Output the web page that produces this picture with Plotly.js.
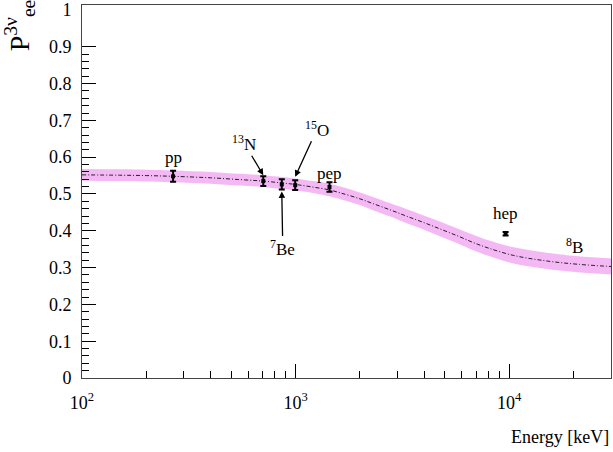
<!DOCTYPE html>
<html>
<head>
<meta charset="utf-8">
<script src="https://cdn.plot.ly/plotly-3.0.1.min.js"></script>
<style>html,body{margin:0;padding:0;background:#fff;}#chart{width:613px;height:452px;}</style>
</head>
<body>
<div id="chart"></div>
<script>
// Survival probability curve
const curveEnergy = [100, 150, 200, 267, 400, 550, 706, 862, 996, 1200, 1442, 1620, 2000, 2300, 2800, 3300, 4000, 4800, 5800, 6800, 8000, 10500, 15000, 21000, 30000];
const curveP      = [0.552, 0.551, 0.550, 0.548, 0.544, 0.539, 0.535, 0.530, 0.526, 0.519, 0.511, 0.503, 0.487, 0.474, 0.456, 0.440, 0.422, 0.404, 0.385, 0.368, 0.353, 0.333, 0.318, 0.309, 0.303];
const bandHalf    = [0.016, 0.016, 0.016, 0.016, 0.016, 0.016, 0.016, 0.016, 0.016, 0.016, 0.017, 0.017, 0.017, 0.018, 0.018, 0.019, 0.019, 0.020, 0.020, 0.021, 0.021, 0.022, 0.022, 0.022, 0.022];

// Neutrino sources
const srcNames  = ['pp', '13N', '7Be', '15O', 'pep', 'hep'];
const srcEnergy = [267, 706, 862, 996, 1442, 9628];
const srcP      = [0.548, 0.535, 0.526, 0.524, 0.519, 0.392];
const srcErr    = [0.015, 0.013, 0.014, 0.013, 0.013, 0.005];

// Axis tick labels
const xTickVals = [100, 1000, 10000];
const xTickText = ['10<sup>2</sup>', '10<sup>3</sup>', '10<sup>4</sup>'];
const xMinorVals = [200,300,400,500,600,700,800,900,2000,3000,4000,5000,6000,7000,8000,9000,20000,30000];
const yTickVals = [0, 0.1, 0.2, 0.3, 0.4, 0.5, 0.6, 0.7, 0.8, 0.9, 1];
const yTickText = ['0', '0.1', '0.2', '0.3', '0.4', '0.5', '0.6', '0.7', '0.8', '0.9', '1'];

const upper = curveP.map((v, i) => v + bandHalf[i]);
const lower = curveP.map((v, i) => v - bandHalf[i]);

const serif = 'Liberation Serif';

const traces = [
  {x: curveEnergy, y: lower, mode: 'lines', line: {width: 0, shape: 'spline'}, hoverinfo: 'skip', showlegend: false},
  {x: curveEnergy, y: upper, mode: 'lines', line: {width: 0, shape: 'spline'}, fill: 'tonexty', fillcolor: 'rgb(244,184,244)', hoverinfo: 'skip', showlegend: false},
  {x: curveEnergy, y: curveP, mode: 'lines', line: {color: '#222', width: 1, dash: '4px,2px,1px,2px', shape: 'spline'}, showlegend: false},
  {x: srcEnergy, y: srcP, mode: 'markers', marker: {symbol: 'square', size: 4, color: '#000'},
   error_y: {type: 'data', array: srcErr, visible: true, color: '#000', thickness: 2, width: 3}, showlegend: false},
  // invisible holder so the title-only axis (y2) gets drawn
  {x: [curveEnergy[0]], y: [0], yaxis: 'y2', mode: 'markers', marker: {opacity: 0}, hoverinfo: 'skip', showlegend: false}
];

function lg(v) { return Math.log10(v); }
const annFont = {family: serif, size: 17, color: '#000'};
const anns = [
  {x: lg(267), y: 0.598, text: 'pp', showarrow: false},
  {x: lg(1442), y: 0.557, text: 'pep', showarrow: false},
  {x: lg(9628), y: 0.446, text: 'hep', showarrow: false},
  {x: lg(20300), y: 0.359, text: '<sup>8</sup>B', showarrow: false},
  {x: lg(706), y: 0.551, text: '<sup>13</sup>N', showarrow: true, ax: -19, ay: -32, arrowhead: 2, arrowsize: 1, arrowwidth: 1.3, arrowcolor: '#000'},
  {x: lg(996), y: 0.547, text: '<sup>15</sup>O', showarrow: true, ax: 22, ay: -48, arrowhead: 2, arrowsize: 1, arrowwidth: 1.3, arrowcolor: '#000'},
  {x: lg(862), y: 0.507, text: '<sup>7</sup>Be', showarrow: true, ax: 1, ay: 57, arrowhead: 2, arrowsize: 1, arrowwidth: 1.3, arrowcolor: '#000'}
].map(a => Object.assign({xref: 'x', yref: 'y', font: annFont}, a));

anns.push({xref: 'paper', yref: 'paper', x: 1, y: -0.158, xanchor: 'right', yanchor: 'middle', text: 'Energy [keV]', showarrow: false, font: {family: serif, size: 18, color: '#000'}});

const layout = {
  width: 613, height: 452,
  margin: {l: 82, r: 2, t: 5, b: 74, autoexpand: false},
  paper_bgcolor: '#fff', plot_bgcolor: '#fff',
  showlegend: false,
  xaxis: {
    type: 'log', range: [2, Math.log10(30000)],
    tickvals: xTickVals, ticktext: xTickText,
    ticks: 'inside', ticklen: 14, tickwidth: 1, tickcolor: '#000',
    minor: {tickvals: xMinorVals, ticks: 'inside', ticklen: 7, tickwidth: 1, tickcolor: '#000', showgrid: false},
    showline: true, linecolor: '#444', linewidth: 1, mirror: true,
    showgrid: false, zeroline: false,
    tickfont: {family: serif, size: 18, color: '#000'}, ticklabelstandoff: 8
  },
  yaxis: {
    range: [0, 1.0135], tickvals: yTickVals, ticktext: yTickText,
    ticks: 'inside', ticklen: 14, tickwidth: 1, tickcolor: '#000',
    minor: {dtick: 0.02, tick0: 0, ticks: 'inside', ticklen: 7, tickwidth: 1, tickcolor: '#000', showgrid: false},
    showline: true, linecolor: '#444', linewidth: 1, mirror: true,
    showgrid: false, zeroline: false,
    tickfont: {family: serif, size: 18, color: '#000'}, ticklabelstandoff: 6
  },
  // title-only axis placed at the top-left so the rotated y title sits near the top
  yaxis2: {
    domain: [0.895, 0.995], anchor: 'free', position: 0,
    showline: false, showticklabels: false, ticks: '', showgrid: false, zeroline: false,
    title: {text: 'P<sup>3ν</sup><sub>ee</sub>', font: {family: serif, size: 28, color: '#000'}, standoff: 44}
  },
  annotations: anns
};

Plotly.newPlot('chart', traces, layout, {displayModeBar: false, staticPlot: true});
</script>
</body>
</html>
